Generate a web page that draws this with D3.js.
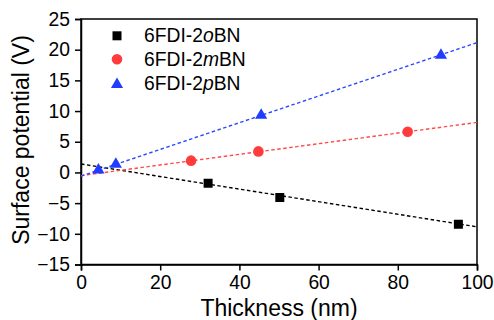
<!DOCTYPE html>
<html>
<head>
<meta charset="utf-8">
<script src="https://cdn.jsdelivr.net/npm/d3@7"></script>
<style>
  body { margin: 0; background: #fff; }
  text { font-family: "Liberation Sans", Arial, sans-serif; }
</style>
</head>
<body>
<script>
// values
var xTicks = [0, 20, 40, 60, 80, 100];
var yTicks = [-15, -10, -5, 0, 5, 10, 15, 20, 25];

var oThick = [32.1, 50.2, 95.3];
var oPot   = [-1.77, -4.1, -8.43];
var oFit   = [1.38, -8.86];   // at x=0 and x=100

var mThick = [27.8, 44.8, 82.5];
var mPot   = [1.92, 3.43, 6.63];
var mFit   = [-0.52, 8.15];

var pThick = [4.4, 8.8, 45.5, 90.9];
var pPot   = [0.4, 1.35, 9.3, 19.1];
var pFit   = [-0.6, 21.15];

var seriesNames = ["6FDI-2", "6FDI-2", "6FDI-2"];
var seriesItal  = ["o", "m", "p"];

var width = 494, height = 320;
var margin = {left: 81, right: 17, top: 19, bottom: 55.5};

var svg = d3.select("body").append("svg")
    .attr("width", width)
    .attr("height", height);

var x = d3.scaleLinear().domain([0, 100]).range([margin.left, width - margin.right]);
var y = d3.scaleLinear().domain([-15, 25]).range([height - margin.bottom, margin.top]);

var series = [
    {thick: oThick, pot: oPot, fit: oFit, color: "#000", line: "#000", shape: "square"},
    {thick: mThick, pot: mPot, fit: mFit, color: "#ff3b3b", line: "#ff4a4a", shape: "circle"},
    {thick: pThick, pot: pPot, fit: pFit, color: "#1f3cff", line: "#2a48ff", shape: "triangle"}
];

function symbolFor(shape) {
    if (shape == "square") return d3.symbol().type(d3.symbolSquare).size(81)();
    if (shape == "circle") return d3.symbol().type(d3.symbolCircle).size(88)();
    return d3.symbol().type(d3.symbolTriangle).size(64)();
}

// frame
svg.append("rect")
    .attr("x", x(0)).attr("y", y(25))
    .attr("width", x(100) - x(0)).attr("height", y(-15) - y(25))
    .attr("fill", "none").attr("stroke", "#000").attr("stroke-width", 1.5);

// axes
var xAxis = svg.append("g")
    .attr("transform", "translate(0," + y(-15) + ")")
    .call(d3.axisBottom(x).tickValues(xTicks).tickSize(6).tickPadding(5));
var yAxis = svg.append("g")
    .attr("transform", "translate(" + x(0) + ",0)")
    .call(d3.axisLeft(y).tickValues(yTicks).tickSize(6).tickPadding(5));

[xAxis, yAxis].forEach(function(a) {
    a.select(".domain").attr("stroke-width", 1.5);
    a.selectAll(".tick line").attr("stroke-width", 1.5);
    a.selectAll("text").attr("font-size", 19.3).attr("fill", "#000")
        .style("font-family", "'Liberation Sans', Arial, sans-serif");
});

// fit lines (clipped to plot)
svg.append("clipPath").attr("id", "clip")
    .append("rect")
    .attr("x", x(0)).attr("y", y(25))
    .attr("width", x(100) - x(0)).attr("height", y(-15) - y(25));

var plot = svg.append("g").attr("clip-path", "url(#clip)");

series.forEach(function(s) {
    plot.append("line")
        .attr("x1", x(0)).attr("y1", y(s.fit[0]))
        .attr("x2", x(100)).attr("y2", y(s.fit[1]))
        .attr("stroke", s.line)
        .attr("stroke-width", 1.4)
        .attr("stroke-dasharray", "3.5,2.5");
});

series.forEach(function(s) {
    plot.selectAll(null)
        .data(s.thick)
        .enter().append("path")
        .attr("d", symbolFor(s.shape))
        .attr("fill", s.color)
        .attr("transform", function(d, i) {
            return "translate(" + x(d) + "," + y(s.pot[i]) + ")";
        });
});

// legend
var legY = [35.8, 59.3, 84.5];
var legBase = [41.5, 66, 90];
series.forEach(function(s, i) {
    svg.append("path")
        .attr("d", symbolFor(s.shape))
        .attr("fill", s.color)
        .attr("transform", "translate(117," + legY[i] + ")");
    var t = svg.append("text")
        .attr("x", 144).attr("y", legBase[i])
        .attr("font-size", 19.3);
    t.append("tspan").text(seriesNames[i]);
    t.append("tspan").attr("font-style", "italic").text(seriesItal[i]);
    t.append("tspan").text("BN");
});

// axis titles
svg.append("text")
    .attr("x", (x(0) + x(100)) / 2)
    .attr("y", 316)
    .attr("text-anchor", "middle")
    .attr("font-size", 23)
    .text("Thickness (nm)");

svg.append("text")
    .attr("transform", "translate(29,140) rotate(-90)")
    .attr("text-anchor", "middle")
    .attr("font-size", 23)
    .text("Surface potential (V)");
</script>
</body>
</html>
